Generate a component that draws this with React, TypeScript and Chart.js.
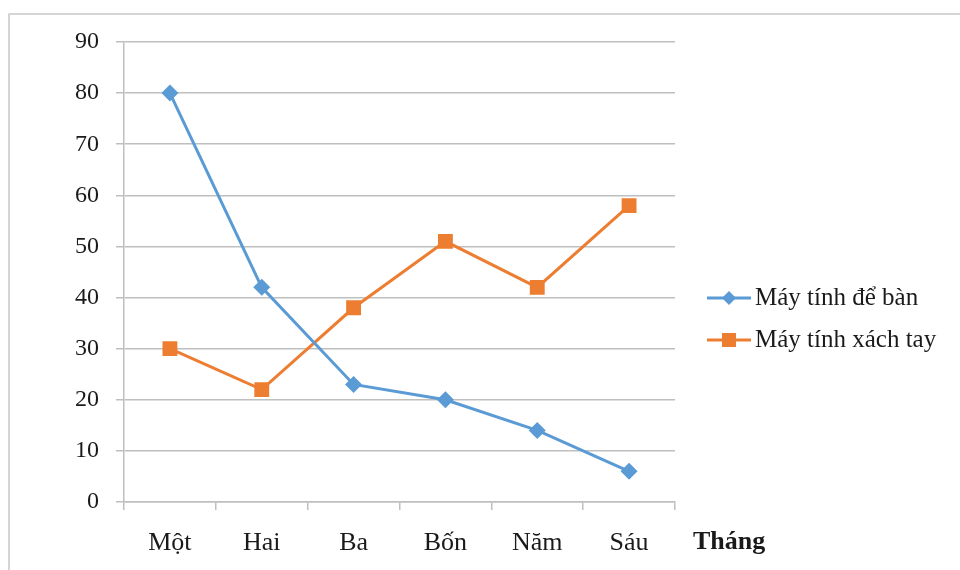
import React, { useEffect, useRef } from "react";
import { Chart, registerables } from "chart.js";

Chart.register(...registerables);

const categories = ["Một", "Hai", "Ba", "Bốn", "Năm", "Sáu"];
const desktopValues = [80, 42, 23, 20, 14, 6];
const laptopValues = [30, 22, 38, 51, 42, 58];
const seriesNames = ["Máy tính để bàn", "Máy tính xách tay"];
const xAxisTitle = "Tháng";
const yMin = 0;
const yMax = 90;
const yStep = 10;

const FONT = "'Liberation Serif', 'Times New Roman', serif";
const BLUE = "#5B9BD5";
const ORANGE = "#ED7D31";
const GRID = "#BFBFBF";
const TEXT = "#1a1a1a";

const decorPlugin = {
  id: "decor",
  beforeDraw(chart: any) {
    const ctx = chart.ctx;
    ctx.save();
    ctx.fillStyle = "#ffffff";
    ctx.fillRect(0, 0, chart.width, chart.height);
    ctx.strokeStyle = "#C8C8C8";
    ctx.lineWidth = 1.5;
    ctx.beginPath();
    ctx.moveTo(9, chart.height);
    ctx.lineTo(9, 14);
    ctx.lineTo(chart.width, 14);
    ctx.stroke();
    ctx.restore();
  },
  afterDraw(chart: any) {
    const ctx = chart.ctx;
    ctx.save();
    ctx.font = `bold 26px ${FONT}`;
    ctx.fillStyle = TEXT;
    ctx.textAlign = "left";
    ctx.textBaseline = "middle";
    ctx.fillText(xAxisTitle, 693, 542);
    const ys = [298, 340];
    chart.data.datasets.forEach((ds: any, i: number) => {
      const y = ys[i];
      ctx.strokeStyle = ds.borderColor;
      ctx.lineWidth = 3;
      ctx.beginPath();
      ctx.moveTo(707, y);
      ctx.lineTo(751, y);
      ctx.stroke();
      ctx.fillStyle = ds.pointBackgroundColor;
      if (ds.pointStyle === "rectRot") {
        const r = 7;
        ctx.beginPath();
        ctx.moveTo(729, y - r);
        ctx.lineTo(729 + r, y);
        ctx.lineTo(729, y + r);
        ctx.lineTo(729 - r, y);
        ctx.closePath();
        ctx.fill();
      } else {
        ctx.fillRect(729 - 7, y - 7, 14, 14);
      }
      ctx.font = `25px ${FONT}`;
      ctx.fillStyle = TEXT;
      ctx.textAlign = "left";
      ctx.textBaseline = "middle";
      ctx.fillText(ds.label, 755, y);
    });
    ctx.restore();
  },
};

export default function App() {
  const ref = useRef<HTMLCanvasElement | null>(null);
  useEffect(() => {
    document.body.style.margin = "0";
    const canvas = ref.current;
    if (!canvas) return;
    const chart = new Chart(canvas, {
      type: "line",
      data: {
        labels: categories,
        datasets: [
          {
            label: seriesNames[0],
            data: desktopValues,
            borderColor: BLUE,
            backgroundColor: BLUE,
            pointBackgroundColor: BLUE,
            pointBorderColor: BLUE,
            pointStyle: "rectRot",
            pointRadius: 8.5,
            pointBorderWidth: 0,
            borderWidth: 3,
            tension: 0,
          },
          {
            label: seriesNames[1],
            data: laptopValues,
            borderColor: ORANGE,
            backgroundColor: ORANGE,
            pointBackgroundColor: ORANGE,
            pointBorderColor: ORANGE,
            pointStyle: "rect",
            pointRadius: 10.5,
            pointBorderWidth: 0,
            borderWidth: 3,
            tension: 0,
          },
        ],
      },
      options: {
        animation: false,
        responsive: false,
        maintainAspectRatio: false,
        layout: { padding: { left: 0, right: 285, top: 42, bottom: 0 } },
        plugins: {
          legend: { display: false },
          tooltip: { enabled: false },
        },
        scales: {
          x: {
            type: "category",
            offset: true,
            grid: {
              offset: true,
              drawOnChartArea: false,
              drawTicks: true,
              tickLength: 8,
              color: GRID,
              lineWidth: 1.5,
            },
            border: { display: true, color: GRID, width: 1.5 },
            ticks: {
              color: TEXT,
              font: { family: FONT, size: 26 },
              padding: 18,
              maxRotation: 0,
              autoSkip: false,
            },
            afterFit(scale: any) {
              scale.height = 68;
            },
          },
          y: {
            min: yMin,
            max: yMax,
            grid: {
              color: GRID,
              lineWidth: 1.5,
              drawTicks: true,
              tickLength: 8,
            },
            border: { display: true, color: GRID, width: 1.5 },
            ticks: {
              stepSize: yStep,
              color: TEXT,
              font: { family: FONT, size: 24 },
              padding: 17,
            },
            afterFit(scale: any) {
              scale.width = 124;
            },
          },
        },
      },
      plugins: [decorPlugin],
    });
    return () => chart.destroy();
  }, []);
  return <canvas ref={ref} width={960} height={570} style={{ display: "block", width: 960, height: 570 }} />;
}
